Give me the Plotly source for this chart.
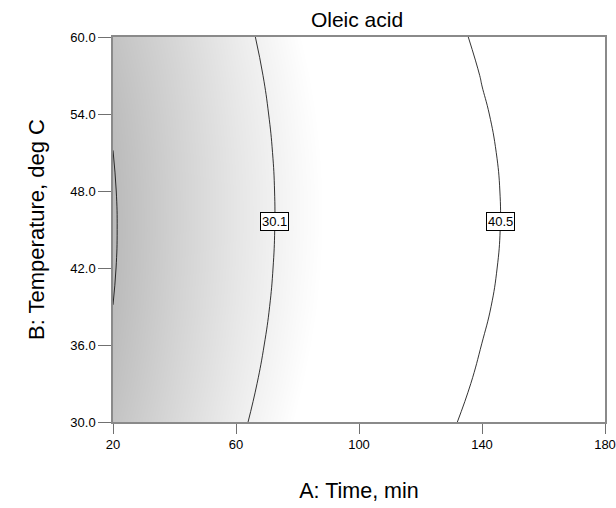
import numpy as np
import plotly.graph_objects as go

# Data (Oleic acid)
time_min = [20, 40, 60, 80, 100, 120, 140, 160, 180]
temp_c = [30, 33, 36, 39, 42, 45, 48, 51, 54, 57, 60]
oleic = [
    [21.28, 25.39, 29.39, 33.01, 36.22, 39.05, 41.47, 43.50, 45.14],
    [20.61, 24.86, 28.86, 32.48, 35.69, 38.52, 40.94, 42.97, 44.61],
    [20.09, 24.44, 28.44, 32.06, 35.27, 38.10, 40.52, 42.55, 44.19],
    [19.71, 24.12, 28.12, 31.74, 34.95, 37.78, 40.20, 42.23, 43.87],
    [19.48, 23.92, 27.92, 31.54, 34.75, 37.58, 40.00, 42.03, 43.67],
    [19.40, 23.82, 27.82, 31.44, 34.65, 37.48, 39.90, 41.93, 43.57],
    [19.47, 23.83, 27.83, 31.45, 34.66, 37.49, 39.91, 41.94, 43.58],
    [19.68, 23.95, 27.95, 31.57, 34.78, 37.61, 40.03, 42.06, 43.70],
    [20.04, 24.18, 28.18, 31.80, 35.01, 37.84, 40.26, 42.29, 43.93],
    [20.55, 24.51, 28.51, 32.13, 35.34, 38.17, 40.59, 42.62, 44.26],
    [21.21, 24.96, 28.96, 32.58, 35.79, 38.62, 41.04, 43.07, 44.71],
]
contour_levels = [19.7, 30.1, 40.5]
labeled_levels = [30.1, 40.5]
x_ticks = [20, 60, 100, 140, 180]
y_ticks = [30.0, 36.0, 42.0, 48.0, 54.0, 60.0]

FONT = "Liberation Sans, Arial, sans-serif"

fig = go.Figure()
fig.add_trace(go.Heatmap(
    x=time_min, y=temp_c, z=oleic, zsmooth="best",
    zmin=19.4, zmax=32.8,
    colorscale=[[0, "rgb(186,186,186)"], [1, "rgb(255,255,255)"]],
    showscale=False, hoverinfo="skip",
))
fig.add_trace(go.Contour(
    x=time_min, y=temp_c, z=oleic,
    contours=dict(start=contour_levels[0], end=contour_levels[-1],
                  size=contour_levels[1] - contour_levels[0],
                  coloring="none", showlabels=False),
    line=dict(color="black", width=0.8, smoothing=1.3),
    showscale=False, hoverinfo="skip",
))

# contour labels: locate each level along the curve at the label temperature
z = np.array(oleic)
b_lab = 45.6
row = np.array([np.interp(b_lab, temp_c, z[:, j]) for j in range(len(time_min))])
for lev in labeled_levels:
    a_lab = float(np.interp(lev, row, time_min))
    fig.add_annotation(x=a_lab, y=b_lab, text=f"{lev:.1f}", showarrow=False,
                       bgcolor="white", bordercolor="black", borderwidth=1,
                       borderpad=1, font=dict(family=FONT, size=13, color="black"))

axis_common = dict(showgrid=False, zeroline=False, showline=True, linecolor="#8a8a8a",
                   linewidth=1.5, mirror=True, ticks="outside", tickcolor="#707070",
                   tickfont=dict(family=FONT, size=13, color="black"))
fig.update_xaxes(range=[20, 180], tickvals=x_ticks, ticklen=10,
                 title=dict(text="A: Time, min", font=dict(family=FONT, size=21.5, color="black"),
                            standoff=32), **axis_common)
fig.update_yaxes(range=[30, 60], tickvals=y_ticks, tickformat=".1f", ticklen=13,
                 title=dict(text="B: Temperature, deg C", font=dict(family=FONT, size=22, color="black"),
                            standoff=20), **axis_common)

fig.update_layout(
    width=616, height=508,
    margin=dict(l=113, r=11, t=37, b=86, autoexpand=False),
    paper_bgcolor="white", plot_bgcolor="white",
    title=dict(text="Oleic acid", x=357 / 616, xanchor="center",
               y=1 - 20 / 508, yanchor="middle",
               font=dict(family=FONT, size=21, color="black")),
    showlegend=False,
)
fig.write_html("out.html")
